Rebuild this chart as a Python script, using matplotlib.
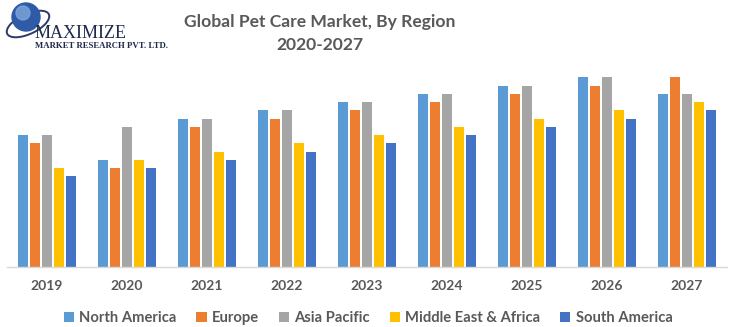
import matplotlib
matplotlib.use("Agg")
import matplotlib.pyplot as plt
from matplotlib.patches import Circle, Ellipse
import numpy as np

plt.rcParams.update({
    "font.family": ["Lato", "DejaVu Sans"],
    "font.weight": "bold",
})

years = ["2019", "2020", "2021", "2022", "2023", "2024", "2025", "2026", "2027"]
regions = ["North America", "Europe", "Asia Pacific", "Middle East & Africa", "South America"]
north_america = [16, 13, 18, 19, 20, 21, 22, 23, 21]
europe = [15, 12, 17, 18, 19, 20, 21, 22, 23]
asia_pacific = [16, 17, 18, 19, 20, 21, 22, 23, 21]
mea = [12, 13, 14, 15, 16, 17, 18, 19, 20]
south_america = [11, 12, 13, 14, 15, 16, 17, 18, 19]
series = [north_america, europe, asia_pacific, mea, south_america]
colors = ["#5B9BD5", "#ED7D31", "#A5A5A5", "#FFC000", "#4472C4"]

TEXT = "#595959"

fig = plt.figure(figsize=(7.3, 3.27), dpi=100)
ax = fig.add_axes([7 / 730, 60 / 327, 720 / 730, 207 / 327])

x = np.arange(len(years))
pitch, width = 0.15, 0.125
for i, (vals, col, name) in enumerate(zip(series, colors, regions)):
    ax.bar(x + (i - 2) * pitch, vals, width=width, color=col, label=name)

ax.set_xlim(-0.5, len(years) - 0.5)
ax.set_ylim(0, 207 / 8.25)
ax.set_xticks(x)
ax.set_xticklabels(years, fontsize=10, fontweight="bold", color=TEXT)
ax.tick_params(axis="x", length=0, pad=9)
ax.set_yticks([])
for s in ("top", "right", "left"):
    ax.spines[s].set_visible(False)
ax.spines["bottom"].set_color("#D9D9D9")
ax.spines["bottom"].set_linewidth(1)

# title
fig.text(320 / 730, 1 - 22 / 327, "Global Pet Care Market, By Region", ha="center", va="center",
         fontsize=12.6, fontweight="bold", color=TEXT)
fig.text(320 / 730, 1 - 45 / 327, "2020-2027", ha="center", va="center",
         fontsize=12.6, fontweight="bold", color=TEXT)

# logo (text + simple globe)
logo = fig.add_axes([0, 1 - 55 / 327, 160 / 730, 55 / 327])
logo.set_xlim(0, 160)
logo.set_ylim(55, 0)
logo.axis("off")
logo.add_patch(Ellipse((28, 24), 46, 20, angle=-25, fill=False, ec="#2B3A67", lw=1.4))
logo.add_patch(Circle((26, 17), 14, color="#2E5AA8"))
logo.add_patch(Circle((23, 13), 7, color="#7FA7D9", alpha=0.8))
logo.text(35, 34, "MAXIMIZE", fontsize=13, family="Liberation Serif", color="#1F2A4A",
          va="center", ha="left", fontweight="normal")
logo.text(35, 46, "MARKET RESEARCH PVT. LTD.", fontsize=6.3, family="Liberation Serif",
          color="#1F2A4A", va="center", ha="left", fontweight="bold")

fig.legend(loc="center", bbox_to_anchor=(368 / 730, 9 / 327), ncol=5, frameon=False,
           handlelength=0.7, handleheight=0.7, handletextpad=0.35, columnspacing=1.35,
           prop={"size": 10.6, "weight": "bold"}, labelcolor=TEXT)

fig.savefig("out.png", dpi=100)
